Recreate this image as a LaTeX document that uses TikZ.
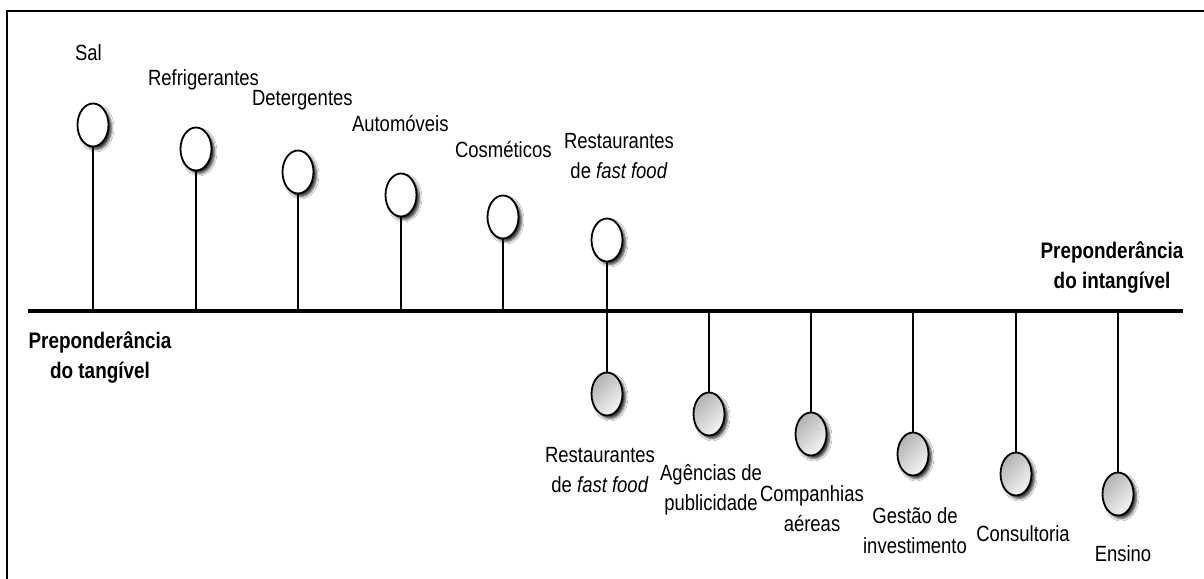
\documentclass[tikz,border=0pt]{standalone}
\usepackage{fontspec}
\setmainfont{Liberation Sans}[FakeStretch=0.84]
\usetikzlibrary{shapes.geometric,shadows.blur}

\begin{document}
\begin{tikzpicture}[x=1pt,y=-1pt,
  every node/.style={inner sep=0pt, outer sep=0pt},
  lbl/.style={font=\fontsize{22}{30}\selectfont, align=center},
  boldlbl/.style={font=\fontsize{22.5}{30}\selectfont\bfseries, align=center},
  bulb/.style={ellipse, draw=black, line width=1.8pt, minimum width=31pt, minimum height=43pt,
    blur shadow={shadow xshift=3pt, shadow yshift=-3pt, shadow blur radius=2.5pt, shadow opacity=80}},
  tangible/.style={bulb, fill=white},
  intangible/.style={bulb, top color=black!30, bottom color=black!4, shading angle=45},
  stem/.style={line width=1.6pt},
]
\useasboundingbox (0,0) rectangle (1204,578);
\fill[white] (0,0) rectangle (1204,578);

% frame
\coordinate (fBL) at (7,582);
\coordinate (fTL) at (7,11);
\coordinate (fTR) at (1210,11);
\draw[line width=2.5pt] (fBL) -- (fTL) -- (fTR);

% axis
\coordinate (axL) at (28,311);
\coordinate (axR) at (1183,311);
\draw[line width=3.5pt] (axL) -- (axR);

% tangible side (above the axis)
\node[tangible] (t1) at (93,125) {};
\node[tangible] (t2) at (196,149) {};
\node[tangible] (t3) at (298,172) {};
\node[tangible] (t4) at (401,195) {};
\node[tangible] (t5) at (503,217) {};
\node[tangible] (t6) at (607,240) {};
\foreach \n in {t1,t2,t3,t4,t5,t6}
  \draw[stem] (\n.south) -- (\n.south |- axL);

% intangible side (below the axis)
\node[intangible] (b1) at (607,394) {};
\node[intangible] (b2) at (709,414) {};
\node[intangible] (b3) at (811,434) {};
\node[intangible] (b4) at (913,454) {};
\node[intangible] (b5) at (1016,474) {};
\node[intangible] (b6) at (1118,494) {};
\foreach \n in {b1,b2,b3,b4,b5,b6}
  \draw[stem] (\n.north |- axL) -- (\n.north);

% labels of the tangible items (base = baseline of the last line)
\node[lbl, anchor=base west] (l1) at (75,60) {Sal};
\node[lbl, anchor=base west] (l2) at (148,85) {Refrigerantes};
\node[lbl, anchor=base west] (l3) at (252,105) {Detergentes};
\node[lbl, anchor=base west] (l4) at (352,131) {Automóveis};
\node[lbl, anchor=base west] (l5) at (455,157) {Cosméticos};
\node[lbl, anchor=base] (l6) at (619,178) {Restaurantes\\de \textit{fast food}};

% labels of the intangible items
\node[lbl, anchor=base] (m1) at (600,492) {Restaurantes\\de \textit{fast food}};
\node[lbl, anchor=base] (m2) at (711,510) {Agências de\\publicidade};
\node[lbl, anchor=base] (m3) at (812,531) {Companhias\\aéreas};
\node[lbl, anchor=base] (m4) at (915,553) {Gestão de\\investimento};
\node[lbl, anchor=base] (m5) at (1023,541) {Consultoria};
\node[lbl, anchor=base] (m6) at (1123,561) {Ensino};

% ends of the scale
\node[boldlbl, anchor=base] (left) at (100,378) {Preponderância\\do tangível};
\node[boldlbl, anchor=base] (right) at (1112,288) {Preponderância\\do intangível};
\end{tikzpicture}
\end{document}
